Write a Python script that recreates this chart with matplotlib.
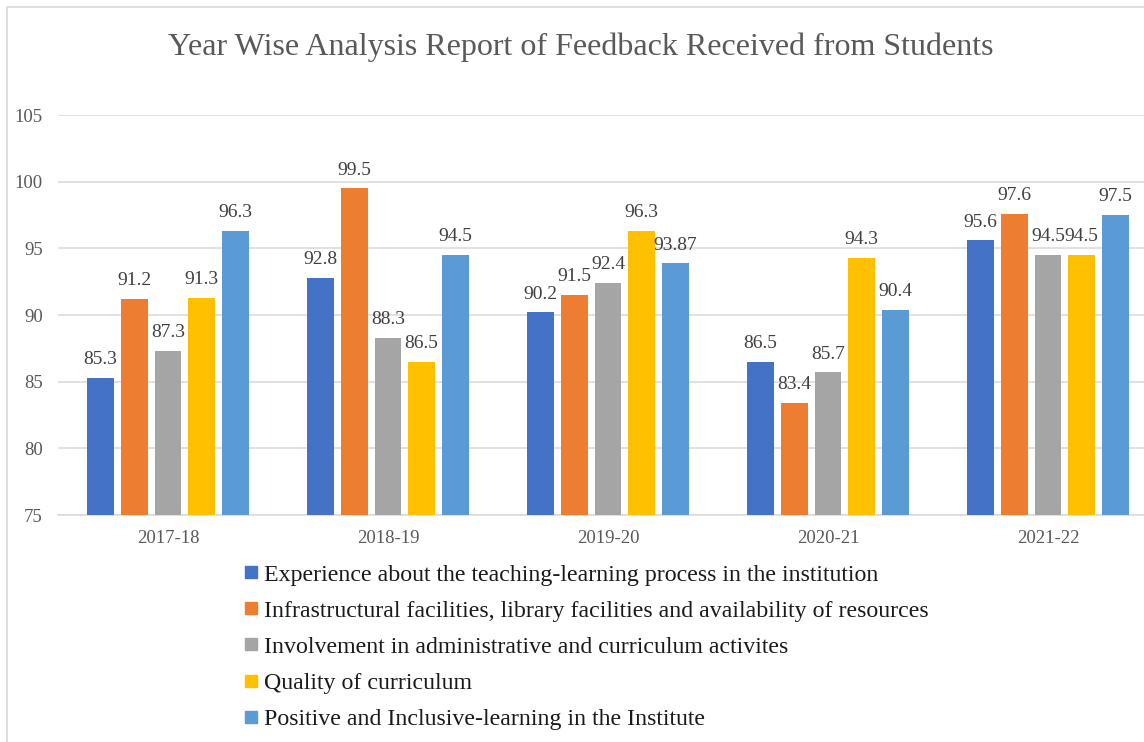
import matplotlib
matplotlib.use('Agg')
import matplotlib.pyplot as plt
import numpy as np
from matplotlib.lines import Line2D
from matplotlib.patches import Rectangle

plt.rcParams['font.family'] = ['Liberation Serif', 'DejaVu Serif']

years = ['2017-18', '2018-19', '2019-20', '2020-21', '2021-22']
series_names = [
    'Experience about the teaching-learning process in the institution',
    'Infrastructural facilities, library facilities and availability of resources',
    'Involvement in administrative and curriculum activites',
    'Quality of curriculum',
    'Positive and Inclusive-learning in the Institute',
]
experience = [85.3, 92.8, 90.2, 86.5, 95.6]
infrastructure = [91.2, 99.5, 91.5, 83.4, 97.6]
involvement = [87.3, 88.3, 92.4, 85.7, 94.5]
quality = [91.3, 86.5, 96.3, 94.3, 94.5]
positive = [96.3, 94.5, 93.87, 90.4, 97.5]
label_text = [
    ['85.3', '92.8', '90.2', '86.5', '95.6'],
    ['91.2', '99.5', '91.5', '83.4', '97.6'],
    ['87.3', '88.3', '92.4', '85.7', '94.5'],
    ['91.3', '86.5', '96.3', '94.3', '94.5'],
    ['96.3', '94.5', '93.87', '90.4', '97.5'],
]
colors = ['#4472C4', '#ED7D31', '#A5A5A5', '#FFC000', '#5B9BD5']

W, H = 1144, 742
fig = plt.figure(figsize=(W / 100, H / 100), dpi=100)

# chart frame (cropped on right and bottom)
fig.patches.append(Rectangle((7 / W, -0.1), 1.2, 1 - 7 / H + 0.1, transform=fig.transFigure,
                             fill=False, edgecolor='#d9d9d9', linewidth=1.2))

ax = fig.add_axes([58 / W, 1 - 515 / H, 1100 / W, 400 / H])
x = np.arange(len(years))
pitch = 0.153
width = 0.121
all_vals = [experience, infrastructure, involvement, quality, positive]
for i, vals in enumerate(all_vals):
    pos = x + (i - 2) * pitch
    bars = ax.bar(pos, np.array(vals) - 75, width, bottom=75, color=colors[i], zorder=3)
    for j, b in enumerate(bars):
        ax.annotate(label_text[i][j], (b.get_x() + b.get_width() / 2, vals[j]),
                    xytext=(0, 7), textcoords='offset points', ha='center', va='bottom',
                    fontsize=14, color='#404040')

ax.set_xlim(-0.5, 4.5)
ax.set_ylim(75, 105)
ax.set_yticks(range(75, 106, 5))
ax.set_xticks(x)
ax.set_xticklabels(years)
ax.tick_params(axis='both', length=0, labelsize=13.5, labelcolor='#595959')
ax.tick_params(axis='y', pad=11)
ax.tick_params(axis='x', pad=11)
ax.grid(axis='y', color='#d9d9d9', linewidth=1.1, zorder=0)
for s in ['top', 'right', 'left']:
    ax.spines[s].set_visible(False)
ax.spines['bottom'].set_color('#d9d9d9')
ax.spines['bottom'].set_linewidth(1.1)
ax.patch.set_alpha(0)

fig.text(581 / W, 1 - 47 / H, 'Year Wise Analysis Report of Feedback Received from Students',
         ha='center', va='center', fontsize=23, color='#595959')

handles = [Line2D([], [], linestyle='none', marker='s', markersize=9, color=c) for c in colors]
fig.legend(handles, series_names, loc='upper left', bbox_to_anchor=(245 / W, 1 - 564 / H),
           frameon=False, fontsize=17.2, handlelength=0.5, handletextpad=0.3,
           labelspacing=0.6, borderaxespad=0, borderpad=0, labelcolor='#1a1a1a')

fig.savefig('out.png', dpi=100)
